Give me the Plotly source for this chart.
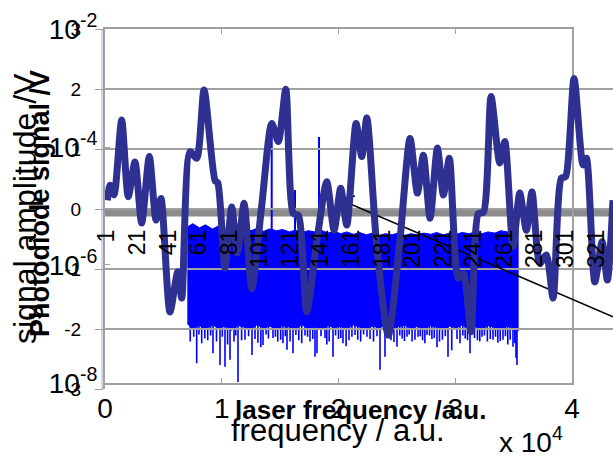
import plotly.graph_objects as go

# ---------------- data: spectrum (log plot) ----------------
band_freq = [7050, 7500, 8100, 8600, 9200, 9700, 10300, 10800, 11400, 11900,
             12500, 13000, 13600, 14100, 14700, 15200, 15800, 16300, 16900, 17400,
             18000, 18500, 19100, 19600, 20200, 20700, 21300, 21800, 22400, 22900,
             23500, 24000, 24600, 25100, 25700, 26200, 26800, 27300, 27900, 28400,
             29000, 29500, 30100, 30600, 31200, 31700, 32300, 32800, 33400, 33900,
             34500, 35000, 35430]
band_top_log = [-5.36, -5.30, -5.37, -5.32, -5.39, -5.34, -5.40, -5.35, -5.41, -5.37,
                -5.42, -5.38, -5.43, -5.39, -5.42, -5.40, -5.44, -5.41, -5.45, -5.42,
                -5.44, -5.41, -5.46, -5.43, -5.47, -5.44, -5.48, -5.45, -5.49, -5.46,
                -5.50, -5.47, -5.49, -5.46, -5.50, -5.47, -5.49, -5.46, -5.48, -5.45,
                -5.49, -5.46, -5.48, -5.45, -5.47, -5.44, -5.47, -5.44, -5.46, -5.42,
                -5.44, -5.38, -5.33]
band_bottom_log = [-7.00, -7.08, -7.03, -7.10, -7.02, -7.07, -7.04, -7.11, -7.03, -7.06,
                   -7.09, -7.02, -7.07, -7.04, -7.10, -7.03, -7.06, -7.08, -7.02, -7.09,
                   -7.05, -7.10, -7.03, -7.07, -7.04, -7.09, -7.02, -7.06, -7.10, -7.04,
                   -7.07, -7.03, -7.09, -7.05, -7.02, -7.08, -7.04, -7.10, -7.03, -7.06,
                   -7.09, -7.04, -7.07, -7.02, -7.08, -7.05, -7.10, -7.03, -7.06, -7.09,
                   -7.04, -7.08, -7.12]
dip_freq = [7300, 7854, 8283, 8800, 9251, 9850, 10278, 10707, 11050, 11392,
            11991, 12591, 13100, 13533, 14000, 14390, 14800, 15246, 15589, 16103,
            16600, 17131, 17560, 17987, 18158, 18844, 19200, 19529, 20000, 20385,
            20900, 21413, 21900, 22441, 23000, 23555, 23983, 24500, 25011, 25450,
            25867, 26300, 26809, 27200, 27580, 28000, 28437, 28900, 29379, 29700,
            30407, 30850, 31263, 31435, 31900, 32291, 32750, 33233, 33650, 34090,
            34500, 34946, 35203, 35289]
dip_log = [-7.30, -7.67, -7.33, -7.28, -7.50, -7.70, -7.73, -7.61, -7.30, -7.99,
           -7.27, -7.53, -7.32, -7.36, -7.25, -7.24, -7.30, -7.33, -7.44, -7.50,
           -7.28, -7.20, -7.30, -7.56, -7.50, -7.24, -7.30, -7.56, -7.26, -7.33,
           -7.28, -7.19, -7.30, -7.22, -7.30, -7.78, -7.56, -7.28, -7.39, -7.25,
           -7.22, -7.30, -7.22, -7.28, -7.19, -7.26, -7.40, -7.27, -7.56, -7.45,
           -7.33, -7.25, -7.50, -7.19, -7.28, -7.22, -7.30, -7.27, -7.32, -7.27,
           -7.35, -7.39, -7.58, -7.70]
short_dip_freq = [7600, 8050, 8550, 9050, 9550, 10050, 10500, 11200, 11700, 12300,
                  12850, 13350, 13800, 14600, 15050, 15450, 15850, 16350, 16850, 17350,
                  17800, 18500, 19000, 19750, 20200, 20650, 21150, 21650, 22150, 22700,
                  23300, 24250, 24750, 25250, 25650, 26050, 26550, 27000, 27400, 27800,
                  28200, 28650, 29150, 30150, 30650, 31050, 31650, 32100, 32500, 33000,
                  33450, 33850, 34300, 34700, 35100]
short_dip_log = [-7.22, -7.18, -7.25, -7.20, -7.30, -7.22, -7.35, -7.20, -7.28, -7.21,
                 -7.26, -7.40, -7.18, -7.22, -7.27, -7.21, -7.30, -7.19, -7.33, -7.22,
                 -7.26, -7.21, -7.35, -7.20, -7.24, -7.38, -7.22, -7.27, -7.18, -7.26,
                 -7.21, -7.24, -7.31, -7.20, -7.29, -7.18, -7.27, -7.21, -7.33, -7.20,
                 -7.24, -7.30, -7.21, -7.26, -7.20, -7.28, -7.24, -7.30, -7.20, -7.26,
                 -7.22, -7.29, -7.21, -7.27, -7.33]
peak_freq = [14278, 16274, 18330]
peak_log = [-3.57, -4.73, -3.83]
band_ref_log = -6.8      # spikes start inside the dense band
band_top_ref_log = -5.6

spec_xticks = [0, 10000, 20000, 30000, 40000]
spec_xticktext = ["0", "1", "2", "3", "4"]
spec_yticks = [1e-2, 1e-4, 1e-6, 1e-8]
spec_yticktext = ["10<sup>-2</sup>", "10<sup>-4</sup>", "10<sup>-6</sup>", "10<sup>-8</sup>"]

# ---------------- data: photodiode signal ----------------
pd_index = [1.2, 3.0, 5.6, 10.6, 14.9, 19.3, 23.7, 28.7, 33.1, 36.3,
            42.2, 47.3, 49.9, 55.3, 59.7, 64.5, 71.7, 73.5, 78.2, 82.6,
            86.3, 90.7, 95.7, 102.4, 108.8, 113.1, 118.0, 122.9, 126.2, 131.7,
            138.2, 144.8, 149.6, 153.9, 157.9, 164.0, 167.7, 171.0, 177.5, 185.1,
            192.8, 199.3, 204.1, 208.0, 212.4, 217.2, 221.1, 225.0, 230.9, 234.2,
            239.2, 244.0, 247.3, 252.3, 258.0, 261.3, 266.7, 271.1, 275.4, 279.1,
            284.2, 288.5, 292.9, 298.3, 301.0, 306.6, 312.5, 314.7, 320.2, 325.0,
            328.4, 332.1]
pd_signal = [0.15, 0.40, 0.24, 1.49, 0.21, 0.79, -0.23, 0.88, -0.18, 0.18,
             -1.71, -1.04, -1.48, 0.96, 0.85, 1.99, 0.48, 0.44, -0.98, 0.04,
             -0.73, 0.10, -1.32, 0.10, 1.43, 1.13, 2.00, -0.07, -0.10, -1.71,
             -0.55, 0.46, -0.35, 0.35, -0.26, 1.43, 0.88, 1.52, -0.62, -2.10,
             -0.48, 1.18, 0.27, 0.90, -0.15, 1.02, 0.24, 0.85, -1.15, -1.07,
             -2.04, -0.07, -0.05, 1.88, 0.77, 1.13, -0.62, 0.27, -0.35, 0.29,
             -0.90, -0.76, -1.48, 0.52, 0.54, 2.18, 0.74, 0.85, -1.21, -0.54,
             -1.18, 0.15]
trend_index = [150.2, 163.3, None, 158.7, 332.1]
trend_value = [0.155, 0.22, None, 0.105, -1.79]
baseline_value = -0.06

pd_xticks = [1, 21, 41, 61, 81, 101, 121, 141, 161, 181, 201, 221, 241, 261, 281, 301, 321]
pd_yticks = [-3, -2, -1, 0, 1, 2, 3]
pd_yticktext = ["-3", "-2", "-1", "0", "1", "2", "3"]

# ---------------- layout helpers (pixel -> paper) ----------------
W, H = 613, 457
def px(x):
    return x / W
def py(y):
    return 1 - y / H

FONT = "Liberation Sans, Arial, sans-serif"
GRID = "#a0a0a0"
BLUE = "#0000ff"
NAVY = "#2e3192"

fig = go.Figure()

# --- spectrum traces (x / y) ---
fig.add_trace(go.Scatter(x=band_freq, y=[10 ** v for v in band_bottom_log],
                         mode="lines", line=dict(color=BLUE, width=1),
                         xaxis="x", yaxis="y", hoverinfo="skip", showlegend=False))
fig.add_trace(go.Scatter(x=band_freq, y=[10 ** v for v in band_top_log],
                         mode="lines", line=dict(color=BLUE, width=1),
                         fill="tonexty", fillcolor=BLUE,
                         xaxis="x", yaxis="y", hoverinfo="skip", showlegend=False))
dx, dy = [], []
for f, v in zip(dip_freq + short_dip_freq, dip_log + short_dip_log):
    dx += [f, f, None]
    dy += [10 ** band_ref_log, 10 ** v, None]
fig.add_trace(go.Scatter(x=dx, y=dy, mode="lines", line=dict(color=BLUE, width=1.6),
                         xaxis="x", yaxis="y", hoverinfo="skip", showlegend=False))
ux, uy = [], []
for f, v in zip(peak_freq, peak_log):
    ux += [f, f, None]
    uy += [10 ** band_top_ref_log, 10 ** v, None]
fig.add_trace(go.Scatter(x=ux, y=uy, mode="lines", line=dict(color=BLUE, width=2),
                         xaxis="x", yaxis="y", hoverinfo="skip", showlegend=False))

# --- photodiode traces (x2 / y2) ---
fig.add_trace(go.Scatter(x=trend_index, y=trend_value, mode="lines",
                         line=dict(color="black", width=1.5),
                         xaxis="x2", yaxis="y2", hoverinfo="skip", showlegend=False))
fig.add_trace(go.Scatter(x=pd_index, y=pd_signal, mode="lines",
                         line=dict(color=NAVY, width=7, shape="spline", smoothing=0.7),
                         xaxis="x2", yaxis="y2", showlegend=False))

fig.add_shape(type="line", xref="x2 domain", yref="y2", x0=0, x1=1,
              y0=baseline_value, y1=baseline_value,
              line=dict(color="#8c8c8c", width=7), layer="below")
fig.add_shape(type="line", xref="paper", yref="paper", x0=px(102), x1=px(102),
              y0=py(29.3), y1=py(389.3), line=dict(color="#a8a8d8", width=1), layer="below")

fig.update_layout(
    width=W, height=H,
    margin=dict(l=0, r=0, t=0, b=0, autoexpand=False),
    paper_bgcolor="white", plot_bgcolor="rgba(0,0,0,0)",
    font=dict(family=FONT, color="black"),
    showlegend=False,
    xaxis=dict(domain=[px(105), px(572)], range=[0, 40000], anchor="y",
               tickvals=spec_xticks, ticktext=spec_xticktext,
               tickfont=dict(size=28), ticks="inside", ticklen=5, tickcolor=GRID,
               showline=True, linecolor=GRID, linewidth=2, mirror="ticks",
               showgrid=False, zeroline=False),
    yaxis=dict(domain=[py(382.7), py(29.3)], type="log", range=[-8, -2], anchor="x",
               tickvals=spec_yticks, ticktext=spec_yticktext,
               tickfont=dict(size=28), ticks="inside", ticklen=5, tickcolor=GRID,
               showline=True, linecolor=GRID, linewidth=2, mirror="ticks",
               showgrid=False, zeroline=False),
    xaxis2=dict(domain=[px(105), 1], range=[-0.31, 332.1], anchor="free",
                position=py(224), tickvals=pd_xticks, tickangle=-90,
                tickfont=dict(size=23), ticks="", showline=False,
                showgrid=False, zeroline=False),
    yaxis2=dict(domain=[py(389.3), py(29.3)], range=[-3, 3], anchor="x2",
                tickvals=pd_yticks, ticktext=pd_yticktext, tickfont=dict(size=19),
                ticks="outside", ticklen=8, tickcolor=GRID, ticklabelstandoff=10,
                showline=True, linecolor=GRID, linewidth=2,
                showgrid=True, gridcolor=GRID, gridwidth=2, zeroline=False),
)

ann = [
    dict(text="<b>laser frequency /a.u.</b>", x=px(360), y=py(410), size=26, angle=0),
    dict(text="frequency / a.u.", x=px(338), y=py(430), size=31, angle=0),
    dict(text="x 10<sup>4</sup>", x=px(531), y=py(440), size=28, angle=0),
    dict(text="signal amplitude /V", x=px(25), y=py(209), size=32, angle=-90),
    dict(text="<b>Photodiode signal /V</b>", x=px(40), y=py(204), size=27, angle=-90),
]
for a in ann:
    fig.add_annotation(text=a["text"], x=a["x"], y=a["y"], xref="paper", yref="paper",
                       xanchor="center", yanchor="middle", showarrow=False,
                       textangle=a["angle"], font=dict(size=a["size"], family=FONT, color="black"))

fig.write_html("out.html", config={"displayModeBar": False},
               post_script="document.body.style.margin='0';document.body.style.overflow='hidden';")
